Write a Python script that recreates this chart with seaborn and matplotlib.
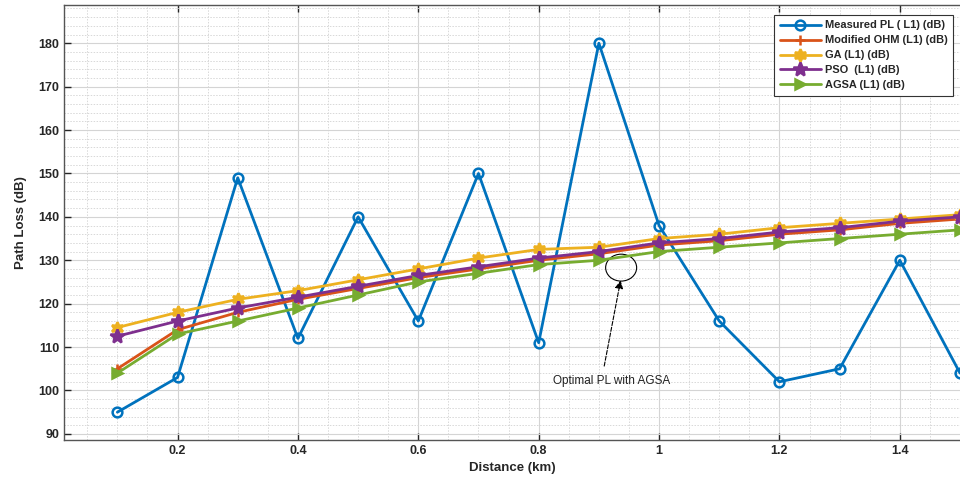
import numpy as np
import pandas as pd
import matplotlib
matplotlib.use("Agg")
import matplotlib.pyplot as plt
import seaborn as sns
from matplotlib.patches import Ellipse
from matplotlib.ticker import MultipleLocator

# data
distance = [0.1, 0.2, 0.3, 0.4, 0.5, 0.6, 0.7, 0.8, 0.9, 1.0, 1.1, 1.2, 1.3, 1.4, 1.5]
measured = [95, 103, 149, 112, 140, 116, 150, 111, 180, 138, 116, 102, 105, 130, 104]
ohm = [105, 114, 118, 121, 123.5, 126, 128, 130, 131.5, 133.5, 134.5, 136, 137, 138.5, 139.5]
ga = [114.5, 118, 121, 123, 125.5, 128, 130.5, 132.5, 133, 135, 136, 137.5, 138.5, 139.5, 140.5]
pso = [112.5, 116, 119, 121.5, 124, 126.5, 128.5, 130.5, 132, 134, 135, 136.5, 137.5, 139, 140]
agsa = [104, 113, 116, 119, 122, 125, 127, 129, 130, 132, 133, 134, 135, 136, 137]

labels = ['Measured PL ( L1) (dB)', 'Modified OHM (L1) (dB)', 'GA (L1) (dB)',
          'PSO  (L1) (dB)', 'AGSA (L1) (dB)']

sns.set_theme(style="ticks")
plt.rcParams['font.family'] = ['Liberation Sans', 'DejaVu Sans']

fig = plt.figure(figsize=(9.6, 4.86), dpi=100)
ax = fig.add_axes([0.0667, 0.0947, 0.9333, 0.895])

series = [
    (measured, labels[0], '#0072BD', 'o', 7, 'none'),
    (ohm, labels[1], '#D95319', '+', 7, None),
    (ga, labels[2], '#EDB120', (6, 1, 0), 9, None),
    (pso, labels[3], '#7E2F8E', '*', 10, None),
    (agsa, labels[4], '#77AC30', '>', 7, None),
]

for vals, lab, col, mk, ms, mfc in series:
    df = pd.DataFrame({'Distance': distance, 'PL': vals})
    sns.lineplot(data=df, x='Distance', y='PL', ax=ax, color=col, marker=mk,
                 markersize=ms, linewidth=2, label=lab,
                 markerfacecolor=(mfc if mfc else col), markeredgecolor=col,
                 markeredgewidth=1.8)

ax.set_xlim(0.0114, 1.5)
ax.set_ylim(88.6, 188.8)
ax.xaxis.set_major_locator(MultipleLocator(0.2))
ax.xaxis.set_minor_locator(MultipleLocator(0.05))
ax.yaxis.set_major_locator(MultipleLocator(10))
ax.yaxis.set_minor_locator(MultipleLocator(2))
ax.set_xticks([0.2, 0.4, 0.6, 0.8, 1.0, 1.2, 1.4])
ax.set_xticklabels(['0.2', '0.4', '0.6', '0.8', '1', '1.2', '1.4'])

ax.grid(which='major', color='#d4d4d4', linewidth=0.8)
ax.grid(which='minor', color='#d8d8d8', linestyle=(0, (1.5, 1.5)), linewidth=0.7)
ax.tick_params(which='both', direction='in', top=True, right=False, labelsize=9,
               colors='#262626')
ax.tick_params(which='minor', length=0)
ax.tick_params(which='major', length=5, width=1)
for t in ax.get_xticklabels() + ax.get_yticklabels():
    t.set_fontweight('bold')
for s in ['left', 'bottom', 'top']:
    ax.spines[s].set_color('#555555')
    ax.spines[s].set_linewidth(1)
ax.spines['right'].set_visible(False)

ax.set_xlabel('Distance (km)', fontsize=9.5, fontweight='bold', labelpad=4)
ax.set_ylabel('Path Loss (dB)', fontsize=9.5, fontweight='bold', labelpad=8)

# annotation
ax.add_patch(Ellipse((0.937, 128.3), 0.0515, 6.2, fill=False, edgecolor='black',
                     linewidth=0.8))
ax.annotate('', xy=(0.937, 126.0), xytext=(0.908, 105.0),
            arrowprops=dict(arrowstyle='-|>', color='black', linestyle='--',
                            linewidth=0.8, mutation_scale=12))
ax.text(0.922, 102.2, 'Optimal PL with AGSA', fontsize=8.5, ha='center',
        va='center', color='#222222')

leg = ax.legend(loc='upper left', bbox_to_anchor=(0.7925, 0.977), fontsize=7.9,
                frameon=True, fancybox=False, edgecolor='#333333', framealpha=1,
                handlelength=3.8, labelspacing=0.45, borderpad=0.5,
                handletextpad=0.3, borderaxespad=0)
leg.get_frame().set_linewidth(0.8)
for t in leg.get_texts():
    t.set_fontweight('bold')

fig.savefig('out.png', dpi=100)
